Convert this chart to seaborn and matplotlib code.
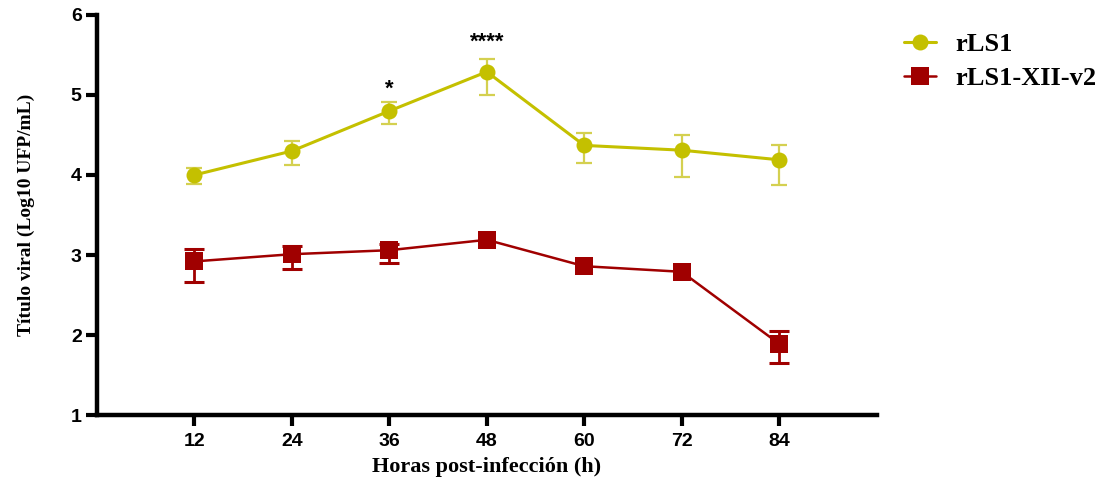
import numpy as np
import pandas as pd
import matplotlib
matplotlib.use("Agg")
import matplotlib.pyplot as plt
import seaborn as sns
from matplotlib.lines import Line2D

# Hours post infection
hours = [12, 24, 36, 48, 60, 72, 84]

# rLS1 viral titre (log10 PFU/mL) with lower/upper error
rls1_mean = [4.00, 4.30, 4.80, 5.29, 4.37, 4.31, 4.19]
rls1_err_lo = [0.11, 0.17, 0.16, 0.29, 0.22, 0.33, 0.32]
rls1_err_hi = [0.09, 0.12, 0.11, 0.16, 0.15, 0.19, 0.19]

# rLS1-XII-v2 viral titre (log10 PFU/mL) with lower/upper error
xii_mean = [2.92, 3.01, 3.06, 3.19, 2.86, 2.79, 1.89]
xii_err_lo = [0.26, 0.18, 0.16, 0.0, 0.0, 0.0, 0.24]
xii_err_hi = [0.16, 0.10, 0.08, 0.0, 0.0, 0.0, 0.16]

# Significance marks
sig_hours = [36, 48]
sig_labels = ["*", "****"]
sig_y = [5.07, 5.66]

series_names = ["rLS1", "rLS1-XII-v2"]
yticks = [1, 2, 3, 4, 5, 6]

yellow = "#C4C000"
yellow_err = "#D4D050"
red = "#A00000"

sns.set_style("ticks")
plt.rcParams["font.family"] = ["Liberation Sans", "DejaVu Sans"]
plt.rcParams["text.color"] = "black"
plt.rcParams["axes.labelcolor"] = "black"
plt.rcParams["xtick.color"] = "black"
plt.rcParams["ytick.color"] = "black"

serif = ["Liberation Serif", "DejaVu Serif"]

df = pd.DataFrame({
    "hours": hours * 2,
    "titre": rls1_mean + xii_mean,
    "serie": [series_names[0]] * len(hours) + [series_names[1]] * len(hours),
})

fig = plt.figure(figsize=(11.11, 4.79), dpi=100)
ax = fig.add_axes([0.0873, 0.1336, 0.7017, 0.8351])

# error bars underneath the markers (only where they extend past the marker)
ax.errorbar(hours, rls1_mean, yerr=[rls1_err_lo, rls1_err_hi], fmt="none",
            ecolor=yellow_err, elinewidth=1.6, capsize=6, capthick=1.6, zorder=2)
xii_idx = [i for i in range(len(hours)) if xii_err_lo[i] > 0 or xii_err_hi[i] > 0]
ax.errorbar([hours[i] for i in xii_idx], [xii_mean[i] for i in xii_idx],
            yerr=[[xii_err_lo[i] for i in xii_idx], [xii_err_hi[i] for i in xii_idx]],
            fmt="none", ecolor=red, elinewidth=2.0, capsize=7.5, capthick=2.2,
            zorder=2)

sns.lineplot(data=df, x="hours", y="titre", hue="serie", style="serie",
             palette={series_names[0]: yellow, series_names[1]: red},
             markers={series_names[0]: "o", series_names[1]: "s"},
             dashes=False, linewidth=2.0, ax=ax, zorder=3, legend=False)
for ln in ax.get_lines():
    if ln.get_marker() == "o":
        ln.set_markersize(11.5)
        ln.set_linewidth(2.2)
        ln.set_markeredgewidth(0)
    elif ln.get_marker() == "s":
        ln.set_markersize(13.5)
        ln.set_linewidth(1.8)
        ln.set_markeredgewidth(0)

for h, lab, yv in zip(sig_hours, sig_labels, sig_y):
    ax.text(h, yv, lab, ha="center", va="center", fontsize=16,
            fontweight="bold", color="black")

ax.set_xlim(0, 96)
ax.set_ylim(1, 6)
ax.set_xticks(hours)
ax.set_yticks(yticks)
ax.tick_params(axis="both", direction="out", length=8, width=3,
               labelsize=14, color="black", labelcolor="black")
for lab in ax.get_xticklabels() + ax.get_yticklabels():
    lab.set_fontweight("bold")
ax.tick_params(axis="x", pad=5)
ax.tick_params(axis="y", pad=3)
for s in ["left", "bottom"]:
    ax.spines[s].set_linewidth(3.2)
    ax.spines[s].set_color("black")
sns.despine(ax=ax)

ax.set_xlabel("Horas post-infección (h)", fontsize=16, fontweight="bold",
              family=serif, labelpad=5, color="black")
ax.set_ylabel("Título viral (Log10 UFP/mL)", fontsize=14, fontweight="bold",
              family=serif, labelpad=26, color="black")

handles = [
    Line2D([], [], color=yellow, marker="o", markersize=11.5, linewidth=2.2,
           markeredgewidth=0),
    Line2D([], [], color=red, marker="s", markersize=13.5, linewidth=1.8,
           markeredgewidth=0),
]
leg = fig.legend(handles, series_names, loc="upper left",
                 bbox_to_anchor=(0.797, 0.97), frameon=False,
                 handlelength=1.2, handletextpad=0.75, labelspacing=0.4,
                 borderpad=0.2,
                 prop={"family": serif, "weight": "bold", "size": 19})

fig.savefig("out.png", dpi=100)
